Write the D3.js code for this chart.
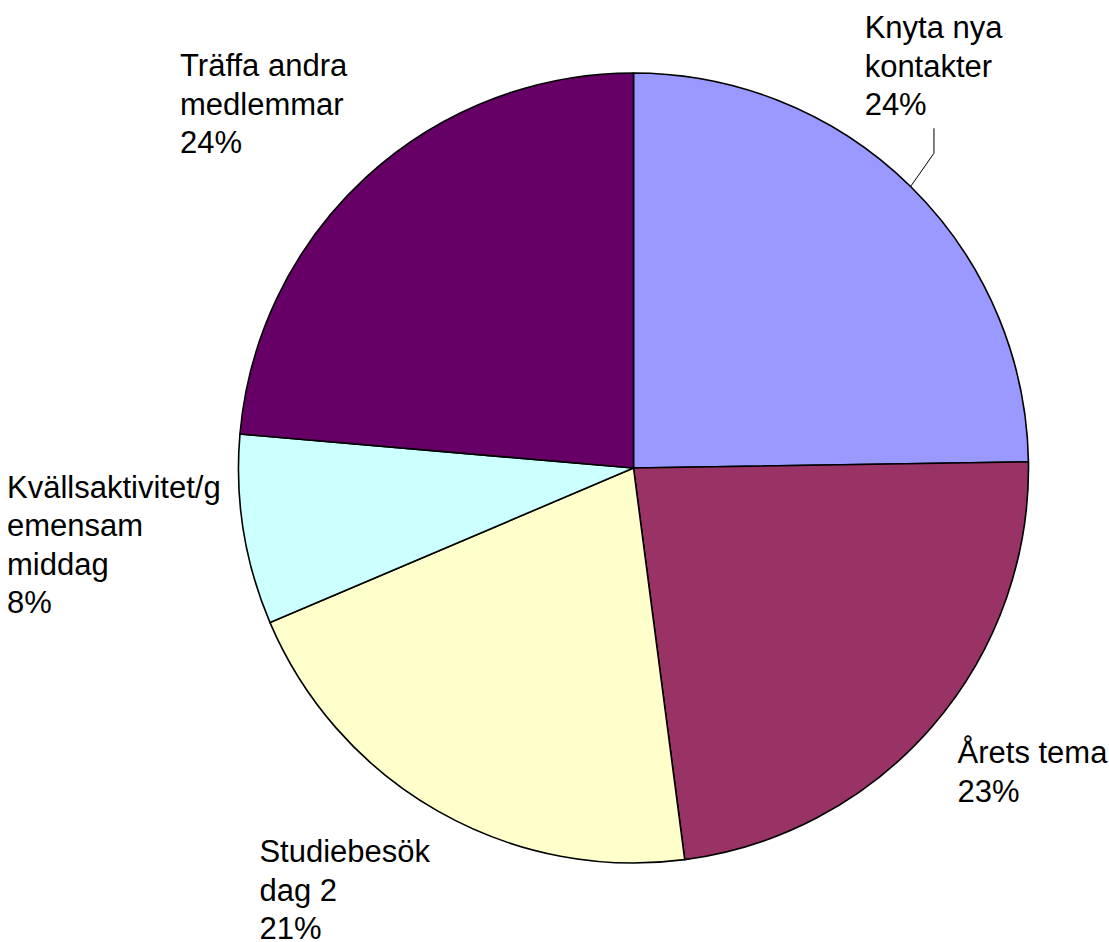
<!DOCTYPE html>
<html>
<head>
<meta charset="utf-8">
<script src="https://cdn.jsdelivr.net/npm/d3@7"></script>
<style>
  body { margin: 0; background: #fff; }
  text { font-family: "Liberation Sans", Arial, sans-serif; font-size: 31px; fill: #000; }
</style>
</head>
<body>
<svg id="chart"></svg>
<script>
// slices, clockwise from 12 o'clock
var categories = ["Knyta nya kontakter", "Årets tema", "Studiebesök dag 2", "Kvällsaktivitet/gemensam middag", "Träffa andra medlemmar"];
var labelLines = [["Knyta nya", "kontakter"], ["Årets tema"], ["Studiebesök", "dag 2"], ["Kvällsaktivitet/g", "emensam", "middag"], ["Träffa andra", "medlemmar"]];
var shares = [24.75, 23.18, 20.67, 7.77, 23.63];
var percentLabels = ["24%", "23%", "21%", "8%", "24%"];
var colors = ["#9999ff", "#993366", "#ffffcc", "#ccffff", "#660066"];

// label tweaks (px), first label was dragged off and has a leader line
var labelNudge = [[-60, -51], [10, 2], [3, 12], [-3, 14], [-5, -3]];
var hasLeader = [true, false, false, false, false];

var width = 1109, height = 942,
    cx = 633.5, cy = 468, radius = 395,
    lineH = 38.5, capH = 22, desc = 6, gap = 20;

var svg = d3.select("#chart")
    .attr("width", width)
    .attr("height", height);

var pie = d3.pie().sort(null).value(function(d){ return d; });
var arc = d3.arc().innerRadius(0).outerRadius(radius);
var arcs = pie(shares);

var g = svg.append("g").attr("transform", "translate(" + cx + "," + cy + ")");

g.selectAll(".slice")
    .data(arcs)
    .enter().append("path")
    .attr("class", "slice")
    .attr("d", arc)
    .attr("fill", function(d, i){ return colors[i]; })
    .attr("stroke", "#000")
    .attr("stroke-width", 1.6)
    .attr("stroke-linejoin", "round");

var labels = svg.append("g");

arcs.forEach(function(d, i){
    var a = (d.startAngle + d.endAngle) / 2;
    var s = Math.sin(a), c = Math.cos(a);
    var ax = cx + (radius + gap) * s,
        ay = cy - (radius + gap) * c;

    var lines = labelLines[i].concat([percentLabels[i]]);
    var t = labels.append("text");
    lines.forEach(function(l, j){
        t.append("tspan").attr("x", 0).attr("dy", j ? lineH : 0).text(l);
    });

    var w = t.node().getBBox().width;
    var h = (lines.length - 1) * lineH + capH + desc;
    var left = s >= 0 ? ax : ax - w;
    var fy = c > 0.3 ? 1 : (c < -0.3 ? 0 : 0.5);
    var top = ay - fy * h;
    left += labelNudge[i][0];
    top += labelNudge[i][1];

    t.attr("transform", "translate(" + left + "," + (top + capH) + ")");

    if (hasLeader[i]) {
        var bx = left + w / 2, by = top + h;
        labels.append("path")
            .attr("d", d3.line()([
                [cx + radius * s, cy - radius * c],
                [bx, by + 32],
                [bx, by + 7]
            ]))
            .attr("fill", "none")
            .attr("stroke", "#000")
            .attr("stroke-width", 1);
    }
});
</script>
</body>
</html>
